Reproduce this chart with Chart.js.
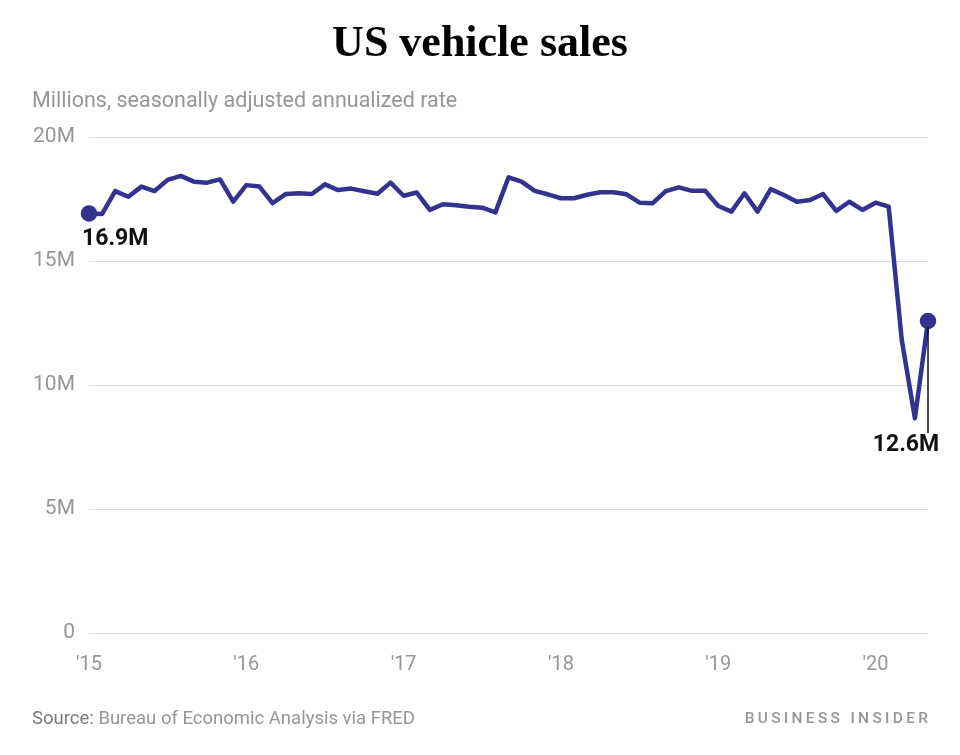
<!DOCTYPE html>
<html>
<head>
<meta charset="utf-8">
<script src="https://cdn.jsdelivr.net/npm/chart.js@4/dist/chart.umd.min.js"></script>
<style>
  html, body { margin: 0; padding: 0; background: #fff; }
  #wrap { position: relative; width: 960px; height: 755px; }
</style>
</head>
<body>
<div id="wrap"><canvas id="chart" width="960" height="755"></canvas></div>
<script>
// Monthly categories, Jan 2015 - May 2020
const months = [
  '2015-01','2015-02','2015-03','2015-04','2015-05','2015-06','2015-07','2015-08','2015-09','2015-10','2015-11','2015-12',
  '2016-01','2016-02','2016-03','2016-04','2016-05','2016-06','2016-07','2016-08','2016-09','2016-10','2016-11','2016-12',
  '2017-01','2017-02','2017-03','2017-04','2017-05','2017-06','2017-07','2017-08','2017-09','2017-10','2017-11','2017-12',
  '2018-01','2018-02','2018-03','2018-04','2018-05','2018-06','2018-07','2018-08','2018-09','2018-10','2018-11','2018-12',
  '2019-01','2019-02','2019-03','2019-04','2019-05','2019-06','2019-07','2019-08','2019-09','2019-10','2019-11','2019-12',
  '2020-01','2020-02','2020-03','2020-04','2020-05'
];

// Sales, millions (SAAR)
const sales = [
  16.92, 16.90, 17.82, 17.59, 18.00, 17.82, 18.27, 18.43, 18.20, 18.16, 18.29, 17.39,
  18.06, 18.00, 17.33, 17.70, 17.73, 17.70, 18.09, 17.86, 17.92, 17.81, 17.71, 18.16,
  17.63, 17.76, 17.06, 17.29, 17.25, 17.19, 17.15, 16.96, 18.37, 18.20, 17.83, 17.69,
  17.53, 17.53, 17.67, 17.77, 17.77, 17.69, 17.35, 17.33, 17.82, 17.97, 17.83, 17.83,
  17.22, 16.99, 17.73, 16.99, 17.90, 17.66, 17.39, 17.46, 17.70, 17.02, 17.39, 17.06,
  17.35, 17.19, 11.81, 8.66, 12.58
];

// x tick labels shown at each January
const yearTicks = { '2015-01': "'15", '2016-01': "'16", '2017-01': "'17", '2018-01': "'18", '2019-01': "'19", '2020-01': "'20" };

const firstLabel = '16.9M';
const lastLabel = '12.6M';

const LINE = '#33338f';
const GRAY = '#969696';

// Title, subtitle, source and the two point callouts
const extras = {
  id: 'extras',
  afterDatasetsDraw(chart) {
    const ctx = chart.ctx;
    const pts = chart.getDatasetMeta(0).data;
    const first = pts[0];
    const last = pts[pts.length - 1];
    ctx.save();

    // callouts
    ctx.fillStyle = '#111';
    ctx.font = 'bold 23px Roboto';
    ctx.textBaseline = 'middle';
    ctx.textAlign = 'left';
    ctx.fillText(firstLabel, first.x - 7, first.y + 26);

    ctx.strokeStyle = '#111';
    ctx.lineWidth = 1.5;
    ctx.beginPath();
    ctx.moveTo(last.x, last.y + 6);
    ctx.lineTo(last.x, 433);
    ctx.stroke();
    ctx.textAlign = 'center';
    ctx.fillText(lastLabel, last.x - 22, 445);

    // title
    ctx.fillStyle = '#000';
    ctx.font = 'bold 44px "Liberation Serif"';
    ctx.textAlign = 'center';
    ctx.fillText('US vehicle sales', 480, 45);

    // subtitle
    ctx.fillStyle = GRAY;
    ctx.font = '21.5px Roboto';
    ctx.textAlign = 'left';
    ctx.fillText('Millions, seasonally adjusted annualized rate', 32, 102);

    // source
    ctx.font = '18.5px Roboto';
    ctx.fillStyle = '#7a7a7a';
    ctx.fillText('Source:', 32, 719);
    const w = ctx.measureText('Source: ').width;
    ctx.fillStyle = GRAY;
    ctx.fillText('Bureau of Economic Analysis via FRED', 32 + w, 719);

    // brand, letter-spaced
    ctx.font = '500 15.5px Roboto';
    ctx.fillStyle = GRAY;
    const brand = 'BUSINESS INSIDER';
    const sp = 3.3;
    let total = 0;
    for (const ch of brand) total += ctx.measureText(ch).width + sp;
    total -= sp;
    let x = 928 - total;
    for (const ch of brand) {
      ctx.fillText(ch, x, 719);
      x += ctx.measureText(ch).width + sp;
    }
    ctx.restore();
  }
};

new Chart(document.getElementById('chart'), {
  type: 'line',
  data: {
    labels: months,
    datasets: [{
      data: sales,
      borderColor: LINE,
      backgroundColor: LINE,
      borderWidth: 4.5,
      borderJoinStyle: 'round',
      tension: 0,
      pointRadius: (c) => (c.dataIndex === 0 || c.dataIndex === sales.length - 1) ? 6 : 0,
      pointHoverRadius: 0,
      clip: false
    }]
  },
  options: {
    responsive: false,
    animation: false,
    layout: { padding: { top: 137, right: 32, bottom: 72, left: 0 } },
    plugins: { legend: { display: false }, tooltip: { enabled: false } },
    scales: {
      x: {
        offset: false,
        grid: { display: false, drawTicks: false },
        border: { display: false },
        afterFit: (s) => { s.height = 50; },
        ticks: {
          autoSkip: false,
          maxRotation: 0,
          padding: 20,
          color: GRAY,
          font: { family: 'Roboto', size: 20 },
          callback: (v, i) => yearTicks[months[i]] || ''
        }
      },
      y: {
        min: 0,
        max: 20,
        afterFit: (s) => { s.width = 89; },
        grid: { color: '#dddddd', lineWidth: 1, drawTicks: false },
        border: { display: false },
        ticks: {
          stepSize: 5,
          padding: 14,
          color: GRAY,
          font: { family: 'Roboto', size: 21 },
          callback: (v) => v === 0 ? '0' : v + 'M'
        }
      }
    }
  },
  plugins: [extras]
});
</script>
</body>
</html>
